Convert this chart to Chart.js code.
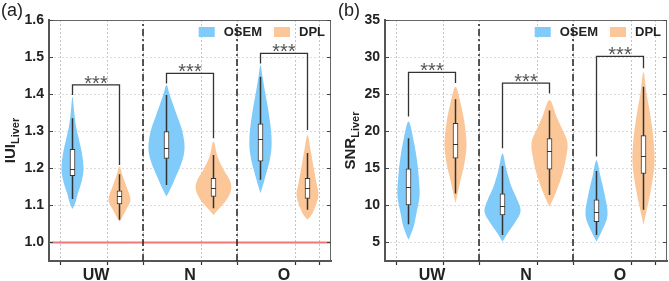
<!DOCTYPE html>
<html>
<head>
<meta charset="utf-8">
<script src="https://cdn.jsdelivr.net/npm/chart.js@4/dist/chart.umd.min.js"></script>
<style>
html, body { margin: 0; padding: 0; background: #fff; }
#wrap { position: relative; width: 669px; height: 281px; }
.panel { position: absolute; top: 0; height: 281px; }
</style>
</head>
<body>
<div id="wrap">
  <div class="panel" style="left:0;width:335px"><canvas id="chartA" width="335" height="281"></canvas></div>
  <div class="panel" style="left:335px;width:334px"><canvas id="chartB" width="334" height="281"></canvas></div>
</div>
<script>
const groups = ['UW', 'N', 'O'];
const methods = ['OSEM', 'DPL'];

// box stats per group: [min, q1, median, q3, max]
// violin outline per group: [value, relative density]
// brackets per group: [OSEM leg end, top, DPL leg end]
const iuiTicks = [1.0, 1.1, 1.2, 1.3, 1.4, 1.5, 1.6];
const iuiOsemBox = [[1.117, 1.180, 1.198, 1.251, 1.335], [1.155, 1.227, 1.256, 1.299, 1.398], [1.169, 1.219, 1.279, 1.320, 1.447]];
const iuiDplBox = [[1.061, 1.104, 1.124, 1.139, 1.184], [1.092, 1.124, 1.148, 1.173, 1.236], [1.088, 1.119, 1.148, 1.173, 1.241]];
const iuiOsemViolin = [
  [[1.09, 0], [1.106, 0.15], [1.133, 0.3], [1.160, 0.48], [1.196, 0.61], [1.241, 0.52], [1.277, 0.36], [1.312, 0.2], [1.349, 0.1], [1.393, 0]],
  [[1.124, 0], [1.145, 0.22], [1.17, 0.45], [1.20, 0.72], [1.23, 0.93], [1.254, 1.0], [1.28, 0.96], [1.31, 0.82], [1.34, 0.6], [1.37, 0.38], [1.40, 0.17], [1.425, 0]],
  [[1.133, 0], [1.16, 0.17], [1.19, 0.34], [1.22, 0.5], [1.25, 0.6], [1.285, 0.61], [1.32, 0.54], [1.36, 0.42], [1.39, 0.31], [1.42, 0.2], [1.45, 0.1], [1.479, 0]]
];
const iuiDplViolin = [
  [[1.055, 0], [1.07, 0.17], [1.09, 0.39], [1.115, 0.61], [1.15, 0.39], [1.18, 0.17], [1.205, 0]],
  [[1.074, 0], [1.092, 0.33], [1.119, 0.78], [1.146, 0.99], [1.169, 0.89], [1.196, 0.56], [1.232, 0.22], [1.272, 0]],
  [[1.061, 0], [1.074, 0.22], [1.097, 0.44], [1.128, 0.61], [1.160, 0.5], [1.205, 0.33], [1.250, 0.17], [1.290, 0]]
];
const iuiBrackets = [[1.398, 1.425, 1.209], [1.429, 1.456, 1.281], [1.483, 1.510, 1.303]];

const snrTicks = [5, 10, 15, 20, 25, 30, 35];
const snrOsemBox = [[7.46, 10.07, 12.45, 14.92, 19.06], [6.0, 8.72, 9.97, 11.55, 15.3], [6.0, 7.82, 9.17, 10.74, 14.65]];
const snrDplBox = [[11.6, 16.36, 18.3, 21.08, 24.3], [11.4, 14.9, 17.4, 19.0, 22.8], [9.4, 14.3, 16.7, 19.4, 26.0]];
const snrOsemViolin = [
  [[5.35, 0], [7.1, 0.28], [8.95, 0.44], [11.2, 0.61], [13.4, 0.58], [16.1, 0.47], [18.8, 0.28], [21.3, 0]],
  [[5.1, 0], [6.25, 0.28], [7.6, 0.67], [9.17, 1.0], [10.7, 0.83], [12.5, 0.5], [14.8, 0.22], [17.0, 0]],
  [[5.1, 0], [6.7, 0.33], [8.72, 0.61], [11.6, 0.44], [13.9, 0.22], [16.1, 0]]
];
const snrDplViolin = [
  [[10.3, 0], [13.4, 0.28], [15.7, 0.5], [18.2, 0.61], [21.1, 0.5], [23.8, 0.28], [26.0, 0]],
  [[9.8, 0], [11.6, 0.33], [13.9, 0.67], [16.1, 0.89], [18.4, 1.0], [20.2, 0.72], [22.0, 0.39], [24.2, 0]],
  [[7.4, 0], [9.8, 0.22], [12.5, 0.44], [15.7, 0.61], [18.8, 0.56], [22.0, 0.39], [25.1, 0.17], [28.0, 0]]
];
const snrBrackets = [[22.0, 27.95, 26.5], [17.7, 26.5, 25.1], [16.6, 30.1, 28.5]];

const colors = ['#80cbf9', '#fbc799'];
const font = 'Liberation Sans, Arial, sans-serif';
const violinScale = 0.192;

function violinPoints(c, prof) {
  const right = prof.map(([v, d]) => ({ x: c + d * violinScale, y: v }));
  const left = prof.slice().reverse().map(([v, d]) => ({ x: c - d * violinScale, y: v }));
  return right.concat(left.slice(1));
}

function makeChart(id, cfg) {
  const datasets = [];
  const boxes = [];
  groups.forEach((g, i) => {
    [cfg.osemViolin[i], cfg.dplViolin[i]].forEach((prof, m) => {
      const c = i + 1 + (m === 0 ? -0.25 : 0.25);
      datasets.push({
        type: 'line', data: violinPoints(c, prof), fill: 'shape',
        backgroundColor: colors[m], borderWidth: 0, pointRadius: 0, tension: 0.35, order: 10
      });
      boxes.push({ x: c, s: m === 0 ? cfg.osemBox[i] : cfg.dplBox[i] });
    });
  });

  const sep = [];
  [1.5, 2.5].forEach(x => sep.push({ x, y: cfg.min }, { x, y: cfg.max }, { x, y: null }));
  datasets.push({
    type: 'line', data: sep, borderColor: '#222', borderWidth: 1.5,
    borderDash: [7, 3, 2, 3], pointRadius: 0, spanGaps: false, order: 9
  });

  if (cfg.refLine != null) {
    datasets.push({
      type: 'line', data: [{ x: 0.5, y: cfg.refLine }, { x: 3.5, y: cfg.refLine }],
      borderColor: '#f27878', borderWidth: 2, pointRadius: 0, order: 9
    });
  }

  datasets.push({
    type: 'line', data: boxes.flatMap(b => [{ x: b.x, y: b.s[0] }, { x: b.x, y: b.s[4] }, { x: b.x, y: null }]),
    borderColor: '#333', borderWidth: 1.5, pointRadius: 0, spanGaps: false, order: 3
  });

  datasets.push({
    type: 'bar', data: boxes.map(b => ({ x: b.x, y: [b.s[1], b.s[3]] })),
    backgroundColor: '#fff', borderColor: '#333', borderWidth: 1, borderSkipped: false,
    barThickness: 5, grouped: false, order: 2
  });

  datasets.push({
    type: 'line',
    data: cfg.brackets.flatMap(([a, top, b], i) => [
      { x: i + 0.75, y: a }, { x: i + 0.75, y: top }, { x: i + 1.25, y: top }, { x: i + 1.25, y: b }, { x: i + 1, y: null }
    ]),
    borderColor: '#333', borderWidth: 1.3, pointRadius: 0, spanGaps: false, order: 1
  });

  const xTickPos = groups.flatMap((g, i) => [i + 0.75, i + 1, i + 1.25]);
  const isCat = v => Math.abs(v - Math.round(v)) < 1e-6;

  const decor = {
    id: 'decor',
    afterDatasetsDraw(chart) {
      const ctx = chart.ctx;
      const y = chart.scales.y;
      const meta = chart.getDatasetMeta(datasets.length - 2);
      ctx.save();
      ctx.strokeStyle = '#333';
      ctx.lineWidth = 1;
      meta.data.forEach((el, k) => {
        const py = Math.round(y.getPixelForValue(boxes[k].s[2])) + 0.5;
        ctx.beginPath();
        ctx.moveTo(el.x - el.width / 2, py);
        ctx.lineTo(el.x + el.width / 2, py);
        ctx.stroke();
      });
      ctx.restore();
    },
    afterDraw(chart) {
      const ctx = chart.ctx;
      const a = chart.chartArea;
      const x = chart.scales.x, y = chart.scales.y;
      ctx.save();
      // frame top / right
      ctx.strokeStyle = '#666';
      ctx.lineWidth = 1;
      ctx.beginPath();
      ctx.moveTo(a.left, a.top + 0.5);
      ctx.lineTo(a.right - 0.5, a.top + 0.5);
      ctx.lineTo(a.right - 0.5, a.bottom);
      ctx.stroke();
      // inward ticks
      ctx.strokeStyle = '#444';
      ctx.lineWidth = 1.2;
      cfg.ticks.forEach(v => {
        const py = Math.round(y.getPixelForValue(v)) + 0.5;
        ctx.beginPath();
        ctx.moveTo(a.left, py); ctx.lineTo(a.left + 4, py);
        ctx.moveTo(a.right, py); ctx.lineTo(a.right - 4, py);
        ctx.stroke();
      });
      // significance stars
      ctx.fillStyle = '#555';
      ctx.font = '20px ' + font;
      ctx.textAlign = 'center';
      ctx.textBaseline = 'alphabetic';
      cfg.brackets.forEach(([p, top], i) => {
        ctx.fillText('***', x.getPixelForValue(i + 1), y.getPixelForValue(top) + 5);
      });
      // legend
      ctx.font = 'bold 13px ' + font;
      ctx.textAlign = 'left';
      ctx.textBaseline = 'middle';
      const ly = a.top + 12;
      let lx = a.right - 6;
      const items = methods.map((m, k) => ({ m, k, w: ctx.measureText(m).width }));
      for (let k = items.length - 1; k >= 0; k--) {
        const it = items[k];
        const tx = lx - it.w;
        ctx.fillStyle = '#222';
        ctx.fillText(it.m, tx, ly);
        ctx.fillStyle = colors[it.k];
        ctx.fillRect(tx - 9 - 16, ly - 5, 16, 10);
        lx = tx - 9 - 16 - 12;
      }
      // axis title with subscript
      ctx.translate(cfg.titleX, (a.top + a.bottom) / 2);
      ctx.rotate(-Math.PI / 2);
      ctx.fillStyle = '#222';
      ctx.textBaseline = 'alphabetic';
      ctx.font = 'bold 15px ' + font;
      const w1 = ctx.measureText(cfg.title).width;
      ctx.font = 'bold 11px ' + font;
      const w2 = ctx.measureText('Liver').width;
      const s = -(w1 + w2) / 2;
      ctx.font = 'bold 15px ' + font;
      ctx.fillText(cfg.title, s, 0);
      ctx.font = 'bold 11px ' + font;
      ctx.fillText('Liver', s + w1, 4);
      ctx.restore();
      // panel label
      ctx.save();
      ctx.fillStyle = '#222';
      ctx.font = '18px ' + font;
      ctx.textBaseline = 'alphabetic';
      ctx.fillText(cfg.label, cfg.labelX, 16);
      ctx.restore();
    }
  };

  return new Chart(document.getElementById(id), {
    type: 'line',
    data: { datasets },
    options: {
      responsive: false,
      animation: false,
      events: [],
      layout: { autoPadding: false, padding: { left: 0, top: 20, right: cfg.padRight, bottom: 0 } },
      plugins: { legend: { display: false }, tooltip: { enabled: false } },
      scales: {
        x: {
          type: 'linear', min: 0.5, max: 3.5, offset: false,
          afterBuildTicks: s => { s.ticks = xTickPos.map(v => ({ value: v })); },
          afterFit: s => { s.height = 20; },
          grid: {
            color: c => (c.tick && isCat(c.tick.value)) ? 'rgba(0,0,0,0)' : '#c4c4c4',
            tickColor: c => (c.tick && isCat(c.tick.value)) ? 'rgba(0,0,0,0)' : '#333',
            lineWidth: 1, tickLength: 4, tickWidth: 1.2, tickBorderDash: []
          },
          border: { color: '#555', width: 2, dash: [2, 2] },
          ticks: {
            autoSkip: false, maxRotation: 0, padding: 1, color: '#222',
            font: { family: font, size: 16, weight: 'bold' },
            callback: v => isCat(v) ? groups[Math.round(v) - 1] : ''
          }
        },
        y: {
          type: 'linear', min: cfg.min, max: cfg.max,
          afterBuildTicks: s => { s.ticks = cfg.ticks.map(v => ({ value: v })); },
          afterFit: s => { s.width = cfg.axisWidth; },
          grid: { color: '#dcdcdc', lineWidth: 1, drawTicks: false },
          border: { color: '#555', width: 2, dash: [2, 2] },
          ticks: {
            padding: 5, color: '#222',
            font: { family: font, size: 14, weight: 'bold' },
            callback: v => v.toFixed(cfg.decimals)
          }
        }
      }
    },
    plugins: [decor]
  });
}

makeChart('chartA', {
  osemViolin: iuiOsemViolin, dplViolin: iuiDplViolin, osemBox: iuiOsemBox, dplBox: iuiDplBox,
  brackets: iuiBrackets, ticks: iuiTicks, min: 0.95, max: 1.6, refLine: 1.0, decimals: 1,
  title: 'IUI', titleX: 15, label: '(a)', labelX: 1, axisWidth: 49, padRight: 4
});

makeChart('chartB', {
  osemViolin: snrOsemViolin, dplViolin: snrDplViolin, osemBox: snrOsemBox, dplBox: snrDplBox,
  brackets: snrBrackets, ticks: snrTicks, min: 2.5, max: 35, refLine: null, decimals: 0,
  title: 'SNR', titleX: 20, label: '(b)', labelX: 3, axisWidth: 50, padRight: 2
});
</script>
</body>
</html>
